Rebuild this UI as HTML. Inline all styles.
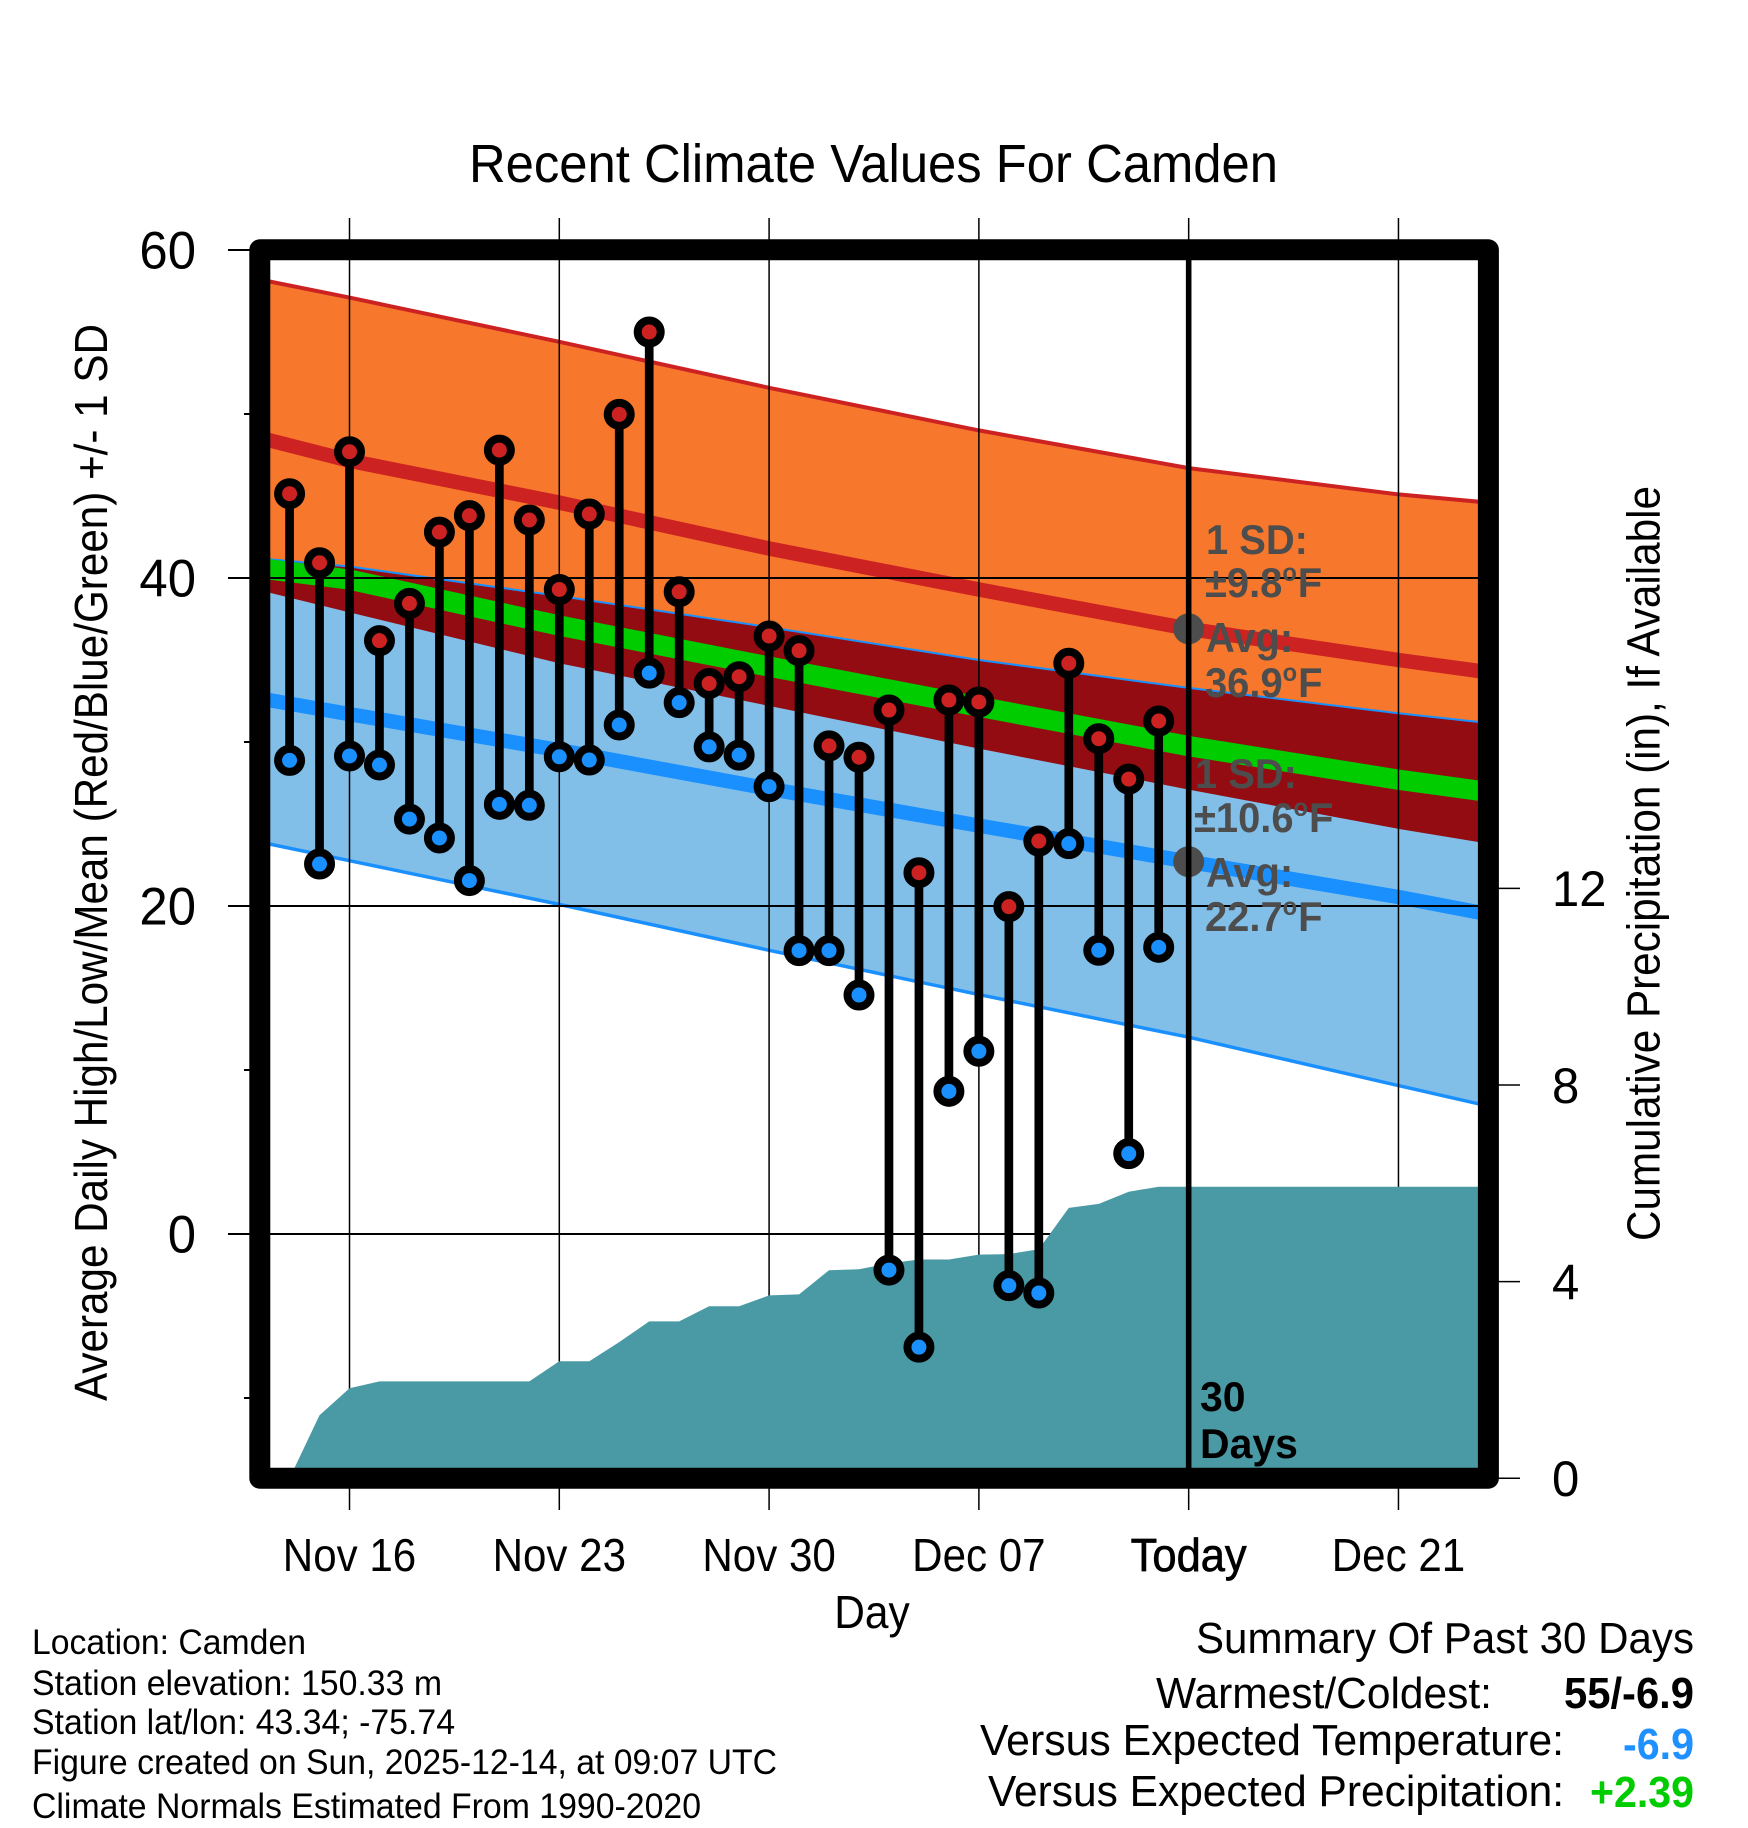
<!DOCTYPE html>
<html lang="en">
<head>
<meta charset="utf-8">
<title>Recent Climate Values For Camden</title>
<style>
html,body{margin:0;padding:0;background:#fff;}
svg{display:block;}
text{font-family:"Liberation Sans",sans-serif;fill:#000;}
</style>
</head>
<body>
<svg id="chart" xmlns="http://www.w3.org/2000/svg" width="1748" height="1828" viewBox="0 0 1748 1828">
  <rect x="0" y="0" width="1748" height="1828" fill="#fff"/>
  <defs><clipPath id="plot-clip"><rect x="260" y="250" width="1228" height="1228"/></clipPath></defs>
  <text x="873.5" y="182" font-size="54" text-anchor="middle" textLength="809" lengthAdjust="spacingAndGlyphs">Recent Climate Values For Camden</text>
  <g id="bands" clip-path="url(#plot-clip)"></g>
  <g id="normals" clip-path="url(#plot-clip)"></g>
  <g id="grid"></g>
  <g id="precip" clip-path="url(#plot-clip)"></g>
  <g id="today"></g>
  <g id="stems"></g>
  <g id="markers"></g>
  <g id="labels"></g>
  <g font-weight="bold" font-size="42">
    <text style="fill:#4d4d4d" transform="translate(1206,554) scale(0.95,1)">1 SD:</text>
    <text style="fill:#4d4d4d" transform="translate(1205,597) scale(0.95,1)">±9.8<tspan dy="-16" font-size="25" style="fill:#4d4d4d">o</tspan><tspan dy="16" dx="1" style="fill:#4d4d4d">F</tspan></text>
    <text style="fill:#4d4d4d" transform="translate(1206,652) scale(0.95,1)">Avg:</text>
    <text style="fill:#4d4d4d" transform="translate(1205,697) scale(0.95,1)">36.9<tspan dy="-16" font-size="25" style="fill:#4d4d4d">o</tspan><tspan dy="16" dx="1" style="fill:#4d4d4d">F</tspan></text>
  </g>
  <g font-weight="bold" font-size="42">
    <text style="fill:#4d4d4d" transform="translate(1195,788) scale(0.95,1)">1 SD:</text>
    <text style="fill:#4d4d4d" transform="translate(1194,832) scale(0.95,1)">±10.6<tspan dy="-16" font-size="25" style="fill:#4d4d4d">o</tspan><tspan dy="16" dx="1" style="fill:#4d4d4d">F</tspan></text>
    <text style="fill:#4d4d4d" transform="translate(1206,887) scale(0.95,1)">Avg:</text>
    <text style="fill:#4d4d4d" transform="translate(1205,931) scale(0.95,1)">22.7<tspan dy="-16" font-size="25" style="fill:#4d4d4d">o</tspan><tspan dy="16" dx="1" style="fill:#4d4d4d">F</tspan></text>
  </g>
  <text transform="translate(1200,1411) scale(0.975,1)" font-size="42" font-weight="bold">30</text>
  <text transform="translate(1200,1458) scale(0.975,1)" font-size="42" font-weight="bold">Days</text>
  <rect x="259.8" y="249.8" width="1228.6" height="1228.4" fill="none" stroke="#000" stroke-width="21" stroke-linejoin="round"/>
  <text x="872" y="1628" font-size="46" text-anchor="middle" textLength="75.5" lengthAdjust="spacingAndGlyphs">Day</text>
  <text transform="translate(107,862.5) rotate(-90)" font-size="46" text-anchor="middle" textLength="1077" lengthAdjust="spacingAndGlyphs">Average Daily High/Low/Mean (Red/Blue/Green) +/- 1 SD</text>
  <text transform="translate(1659.5,863.5) rotate(-90)" font-size="46" text-anchor="middle" textLength="755" lengthAdjust="spacingAndGlyphs">Cumulative Precipitation (in), If Available</text>
  <g font-size="35">
    <text x="32" y="1654" textLength="274" lengthAdjust="spacingAndGlyphs">Location: Camden</text>
    <text x="32" y="1695" textLength="410" lengthAdjust="spacingAndGlyphs">Station elevation: 150.33 m</text>
    <text x="32" y="1734" textLength="423" lengthAdjust="spacingAndGlyphs">Station lat/lon: 43.34; -75.74</text>
    <text x="32" y="1774" textLength="745" lengthAdjust="spacingAndGlyphs">Figure created on Sun, 2025-12-14, at 09:07 UTC</text>
    <text x="32" y="1818" textLength="669" lengthAdjust="spacingAndGlyphs">Climate Normals Estimated From 1990-2020</text>
  </g>
  <g font-size="44">
    <text x="1694" y="1653" text-anchor="end" textLength="498" lengthAdjust="spacingAndGlyphs">Summary Of Past 30 Days</text>
    <text x="1492" y="1708" text-anchor="end" textLength="336" lengthAdjust="spacingAndGlyphs">Warmest/Coldest:</text>
    <text x="1694" y="1708" text-anchor="end" font-weight="bold" textLength="130" lengthAdjust="spacingAndGlyphs">55/-6.9</text>
    <text x="1564" y="1755" text-anchor="end" textLength="584" lengthAdjust="spacingAndGlyphs">Versus Expected Temperature:</text>
    <text x="1694" y="1759" text-anchor="end" font-weight="bold" style="fill:#1e90ff" textLength="71" lengthAdjust="spacingAndGlyphs">-6.9</text>
    <text x="1564" y="1806" text-anchor="end" textLength="576" lengthAdjust="spacingAndGlyphs">Versus Expected Precipitation:</text>
    <text x="1694" y="1807" text-anchor="end" font-weight="bold" style="fill:#00cc00" textLength="104" lengthAdjust="spacingAndGlyphs">+2.39</text>
  </g>
</svg>
<script>
// ---- data ----
const dayLabels = ["Nov 14","Nov 15","Nov 16","Nov 17","Nov 18","Nov 19","Nov 20","Nov 21","Nov 22","Nov 23","Nov 24","Nov 25","Nov 26","Nov 27","Nov 28","Nov 29","Nov 30","Dec 01","Dec 02","Dec 03","Dec 04","Dec 05","Dec 06","Dec 07","Dec 08","Dec 09","Dec 10","Dec 11","Dec 12","Dec 13"];
const dailyHigh = [45.14,40.93,47.7,36.18,38.45,42.8,43.8,47.8,43.54,39.3,43.9,49.98,55.0,39.16,33.57,33.98,36.46,35.57,29.76,29.07,31.95,22.03,32.56,32.44,19.96,23.96,34.8,30.2,27.74,31.28];
const dailyLow = [28.88,22.56,29.15,28.6,25.3,24.15,21.55,26.2,26.14,29.1,28.9,31.04,34.2,32.4,29.7,29.2,27.28,17.28,17.28,14.57,-2.2,-6.9,8.7,11.14,-3.15,-3.6,23.8,17.3,4.9,17.48];
const cumulativePrecip = [0,1.28,1.83,1.97,1.97,1.97,1.97,1.97,1.97,2.38,2.38,2.77,3.19,3.19,3.5,3.5,3.72,3.74,4.23,4.25,4.37,4.45,4.45,4.55,4.56,4.66,5.5,5.58,5.83,5.93];
const normalDays = [0,3,10,17,24,31,38,41];
const highPlusSd = [58.2,57.1,54.4,51.6,49.0,46.7,45.1,44.6];
const highNormal = [48.55,47.15,44.6,41.8,39.3,36.9,35.0,34.25];
const highMinusSd = [39.25,37.9,34.8,32.2,29.6,27.1,24.7,23.8];
const meanNormal = [40.6,39.9,37.1,34.6,32.15,29.75,27.7,26.95];
const lowPlusSd = [41.2,40.7,38.9,37.0,35.0,33.3,31.75,31.15];
const lowNormal = [32.65,31.7,29.5,27.15,24.9,22.7,20.55,19.5];
const lowMinusSd = [23.9,22.76,20.1,17.3,14.6,12.0,9.05,7.8];
const tempMajorTicks = [60,40,20,0];
const tempMinorTicks = [50,30,10,-10];
const precipTicks = [0,4,8,12];
const xTickDays = [3,10,17,24,31,38];
const xTickLabels = ["Nov 16","Nov 23","Nov 30","Dec 07","Today","Dec 21"];
const todayDay = 31;
const todayHighAvg = 36.9;
const todayLowAvg = 22.7;

// ---- axes ----
function x(day){ return 259.6 + day * 29.97; }
function yTemp(v){ return 1234 - v * 16.4; }
function yPrecip(v){ return 1478.2 - v * 49.15; }

const NS = 'http://www.w3.org/2000/svg';
function mk(parentId, tag, attrs){
  const el = document.createElementNS(NS, tag);
  for (const k in attrs) el.setAttribute(k, attrs[k]);
  
  document.getElementById(parentId).appendChild(el);
  return el;
}
function curve(values){
  return values.map(function(v, i){ return x(normalDays[i]).toFixed(1) + ',' + yTemp(v).toFixed(1); });
}
function band(topValues, bottomValues){
  return curve(topValues).concat(curve(bottomValues).reverse()).join(' ');
}
function squeeze(textEl, factor){
  textEl.setAttribute('textLength', (textEl.getComputedTextLength() * factor).toFixed(1));
  textEl.setAttribute('lengthAdjust', 'spacingAndGlyphs');
}
let el;

// ---- bands ----
el = mk('bands', 'polygon', {points: band(highPlusSd, highMinusSd), fill: '#f7782c'});

el = mk('bands', 'polygon', {points: band(lowPlusSd, lowMinusSd), fill: '#82bfe8'});

el = mk('bands', 'polygon', {points: band(lowPlusSd, highMinusSd), fill: '#930c12'});


// ---- normal lines ----
el = mk('normals', 'polyline', {points: curve(highPlusSd).join(' '), fill: 'none', stroke: '#cd2222', 'stroke-width': 4});

el = mk('normals', 'polyline', {points: curve(lowMinusSd).join(' '), fill: 'none', stroke: '#1a90ff', 'stroke-width': 3.5});

el = mk('normals', 'polyline', {points: curve(lowPlusSd).join(' '), fill: 'none', stroke: '#1a90ff', 'stroke-width': 2});

el = mk('normals', 'polyline', {points: curve(highNormal).join(' '), fill: 'none', stroke: '#cd2222', 'stroke-width': 14.5});

el = mk('normals', 'polyline', {points: curve(lowNormal).join(' '), fill: 'none', stroke: '#1a90ff', 'stroke-width': 14.5});

el = mk('normals', 'polyline', {points: curve(meanNormal).join(' '), fill: 'none', stroke: '#00cc00', 'stroke-width': 20.3});


// ---- grid and ticks ----
tempMajorTicks.forEach(function(v){
  el = mk('grid', 'line', {x1: 228, x2: 1480, y1: yTemp(v), y2: yTemp(v), stroke: '#000', 'stroke-width': 2});
  
  el = mk('labels', 'text', {x: 196, y: yTemp(v) + 18.5, 'font-size': 53, 'text-anchor': 'end'});
  
  el.textContent = String(v);
  squeeze(el, 0.96);
});
tempMinorTicks.forEach(function(v){
  el = mk('grid', 'line', {x1: 244, x2: 252, y1: yTemp(v), y2: yTemp(v), stroke: '#000', 'stroke-width': 2});
  
});
xTickDays.forEach(function(d, i){
  const isToday = xTickLabels[i] === 'Today';
  el = mk('grid', 'line', {x1: x(d), x2: x(d), y1: 218, y2: 1510, stroke: '#000', 'stroke-width': 1.5});
  
  el = mk('labels', 'text', {x: x(d), y: 1571, 'font-size': 46, 'text-anchor': 'middle'});
  
  el.textContent = xTickLabels[i];
  squeeze(el, isToday ? 0.945 : 0.915);
  if (isToday) {
    el.setAttribute('stroke', '#000');
    el.setAttribute('stroke-width', '0.7');
  }
});
precipTicks.forEach(function(v){
  el = mk('grid', 'line', {x1: 1495, x2: 1520, y1: yPrecip(v), y2: yPrecip(v), stroke: '#000', 'stroke-width': 1.5});
  
  el = mk('labels', 'text', {x: 1552, y: yPrecip(v) + 17.8, 'font-size': 50.5});
  
  el.textContent = String(v);
  squeeze(el, 0.97);
});

// ---- precipitation ----
const precipPts = cumulativePrecip.map(function(v, i){ return x(i + 1).toFixed(1) + ',' + yPrecip(v).toFixed(1); });
precipPts.push(x(41).toFixed(1) + ',' + yPrecip(cumulativePrecip[cumulativePrecip.length - 1]).toFixed(1));
precipPts.push(x(41).toFixed(1) + ',' + yPrecip(0).toFixed(1));
precipPts.push(x(1).toFixed(1) + ',' + yPrecip(0).toFixed(1));
el = mk('precip', 'polygon', {points: precipPts.join(' '), fill: '#4a9aa5'});


// ---- today markers ----
el = mk('today', 'circle', {cx: x(todayDay), cy: yTemp(todayHighAvg), r: 15.5, fill: '#4d4d4d'});

el = mk('today', 'circle', {cx: x(todayDay), cy: yTemp(todayLowAvg), r: 15.5, fill: '#4d4d4d'});

el = mk('today', 'line', {x1: x(todayDay), x2: x(todayDay), y1: 250, y2: 1478, stroke: '#000', 'stroke-width': 5.6});


// ---- daily stems and markers ----
dayLabels.forEach(function(label, i){
  const cx = x(i + 1);
  el = mk('stems', 'line', {x1: cx, x2: cx, y1: yTemp(dailyHigh[i]), y2: yTemp(dailyLow[i]), stroke: '#000', 'stroke-width': 8.7});
  
  el = mk('markers', 'circle', {cx: cx, cy: yTemp(dailyLow[i]), r: 11.5, fill: '#1a90ff', stroke: '#000', 'stroke-width': 8});
  
  el = mk('markers', 'circle', {cx: cx, cy: yTemp(dailyHigh[i]), r: 11.5, fill: '#cd2222', stroke: '#000', 'stroke-width': 8});
  
});
</script>
</body>
</html>
